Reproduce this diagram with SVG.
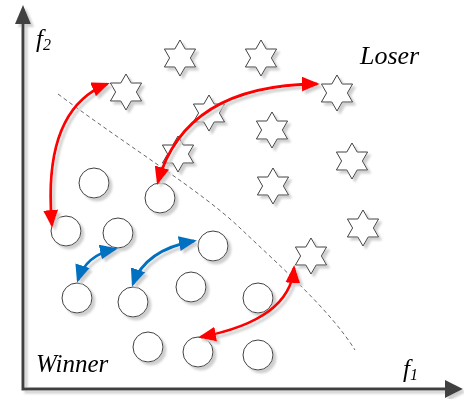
<svg xmlns="http://www.w3.org/2000/svg" width="464" height="399" viewBox="0 0 464 399">
<style>
.star{fill:#fff;stroke:#404040;stroke-width:1}
.node{fill:#fff;stroke:#404040;stroke-width:1}
.red{fill:none;stroke:#ff0000;stroke-width:2.8}
.blue{fill:none;stroke:#0070c0;stroke-width:2.8}
.axis{stroke:#404040;stroke-width:3;fill:none}
.lbl{font-family:"Liberation Serif","Times New Roman",serif;font-style:italic;fill:#000}
</style>
<defs>
<filter id="sh" x="-40%" y="-40%" width="180%" height="180%">
<feOffset in="SourceAlpha" dx="3" dy="3" result="o"/>
<feGaussianBlur in="o" stdDeviation="0.8" result="b"/>
<feFlood flood-color="#cfcfcf"/>
<feComposite in2="b" operator="in" result="s"/>
<feMerge><feMergeNode in="s"/><feMergeNode in="SourceGraphic"/></feMerge>
</filter>
<path id="hex" d="M0,-18 L5.2,-9 L15.59,-9 L10.4,0 L15.59,9 L5.2,9 L0,18 L-5.2,9 L-15.59,9 L-10.4,0 L-15.59,-9 L-5.2,-9 Z"/>
<marker id="ar" markerUnits="userSpaceOnUse" markerWidth="18" markerHeight="15" viewBox="0 0 18 15" refX="15" refY="7.5" orient="auto-start-reverse"><path d="M0,0 L18,7.5 L0,15 Z" fill="#ff0000"/></marker>
<marker id="ab" markerUnits="userSpaceOnUse" markerWidth="18" markerHeight="15" viewBox="0 0 18 15" refX="15" refY="7.5" orient="auto-start-reverse"><path d="M0,0 L18,7.5 L0,15 Z" fill="#0070c0"/></marker>
</defs>

<g id="axes" filter="url(#sh)">
<path class="axis" d="M23,22 L23,389 L447,389"/>
<path d="M23,5 L31,24 L15,24 Z" fill="#404040"/>
<path d="M463,389 L445,380 L445,398 Z" fill="#404040"/>
</g>

<path id="boundary" d="M58,94 C130,148 200,190 240,228 C280,266 330,310 355,350" fill="none" stroke="#404040" stroke-width="0.8" stroke-dasharray="4,3"/>

<g id="stars" filter="url(#sh)">
<g id="s1"><use href="#hex" class="star" transform="translate(126,92)"/></g>
<g id="s2"><use href="#hex" class="star" transform="translate(180,58)"/></g>
<g id="s3"><use href="#hex" class="star" transform="translate(261,58)"/></g>
<g id="s4"><use href="#hex" class="star" transform="translate(337,93)"/></g>
<g id="s5"><use href="#hex" class="star" transform="translate(209,113)"/></g>
<g id="s6"><use href="#hex" class="star" transform="translate(272,130)"/></g>
<g id="s7"><use href="#hex" class="star" transform="translate(178,154)"/></g>
<g id="s8"><use href="#hex" class="star" transform="translate(352,161)"/></g>
<g id="s9"><use href="#hex" class="star" transform="translate(273,186)"/></g>
<g id="s10"><use href="#hex" class="star" transform="translate(363,228)"/></g>
<g id="s11"><use href="#hex" class="star" transform="translate(311,256)"/></g>
</g>

<g id="circles" filter="url(#sh)">
<g id="c1"><circle class="node" cx="94" cy="183" r="15"/></g>
<g id="c2"><circle class="node" cx="160" cy="198" r="15"/></g>
<g id="c3"><circle class="node" cx="66" cy="231" r="15"/></g>
<g id="c4"><circle class="node" cx="118" cy="233" r="15"/></g>
<g id="c5"><circle class="node" cx="213" cy="246" r="15"/></g>
<g id="c6"><circle class="node" cx="77" cy="298" r="15"/></g>
<g id="c7"><circle class="node" cx="133" cy="302" r="15"/></g>
<g id="c8"><circle class="node" cx="191" cy="287" r="15"/></g>
<g id="c9"><circle class="node" cx="258" cy="298" r="15"/></g>
<g id="c10"><circle class="node" cx="148" cy="347" r="15"/></g>
<g id="c11"><circle class="node" cx="198" cy="352" r="15"/></g>
<g id="c12"><circle class="node" cx="258" cy="355" r="15"/></g>
</g>

<g id="connectors" filter="url(#sh)">
<path class="red" d="M52,225 Q42,110 107,84" marker-start="url(#ar)" marker-end="url(#ar)"/>
<path class="red" d="M158,182 Q185,85 317,84" marker-start="url(#ar)" marker-end="url(#ar)"/>
<path class="red" d="M201,337 Q290,320 294,268" marker-start="url(#ar)" marker-end="url(#ar)"/>
<path class="blue" d="M78,280 Q86,255 115,249" marker-start="url(#ab)" marker-end="url(#ab)"/>
<path class="blue" d="M133,284 Q145,250 194,241" marker-start="url(#ab)" marker-end="url(#ab)"/>
</g>

<g id="labels">
<text class="lbl" x="36" y="47" font-size="25">f<tspan font-size="16" dy="3">2</tspan></text>
<text class="lbl" x="403" y="377" font-size="25">f<tspan font-size="16" dy="3">1</tspan></text>
<text class="lbl" x="360" y="64" font-size="26">Loser</text>
<text class="lbl" x="36" y="372" font-size="25">Winner</text>
</g>
</svg>
